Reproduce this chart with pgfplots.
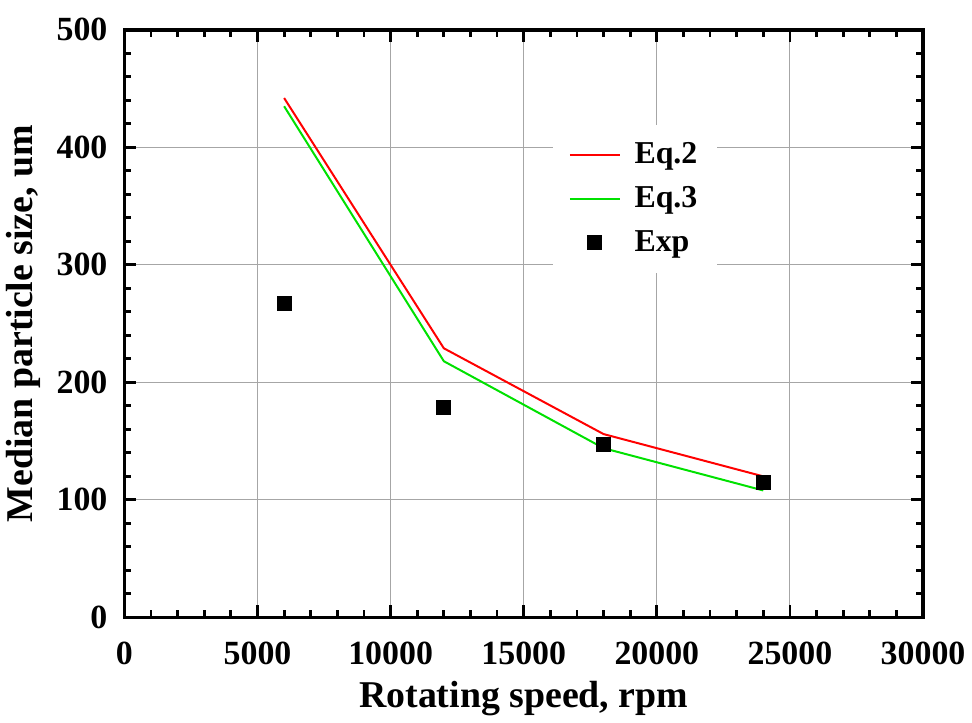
\documentclass[border=0pt]{standalone}
\usepackage{fontspec}
\setmainfont{Liberation Serif}
\usepackage{pgfplots}
\pgfplotsset{compat=1.18}

\begin{document}
\begin{tikzpicture}
\begin{axis}[
    scale only axis,
    width=401pt, height=295pt,
    xmin=0, xmax=30000, ymin=0, ymax=500,
    xtick={0,5000,...,30000}, ytick={0,100,...,500},
    minor x tick num=4, minor y tick num=4,
    tick align=inside,
    major tick length=6pt, minor tick length=3.5pt,
    every tick/.style={black, line width=1.4pt},
    axis line style={line width=1.7pt},
    grid=major,
    major grid style={gray!70, line width=0.5pt},
    scaled x ticks=false,
    /pgf/number format/assume math mode=true,
    xticklabel style={/pgf/number format/set thousands separator={}, yshift=-9pt},
    yticklabel style={xshift=-5pt},
    tick label style={font=\bfseries\fontsize{17}{17}\selectfont},
    label style={font=\bfseries\fontsize{19}{19}\selectfont},
    xlabel={Rotating speed, rpm},
    ylabel={Median particle size, um},
    xlabel style={yshift=-1pt},
    ylabel style={yshift=1pt},
    legend style={at={(0.536,0.839)}, anchor=north west, draw=none, fill=white,
        font=\bfseries\fontsize{16}{16}\selectfont, row sep=6pt, column sep=5pt,
        inner xsep=8pt, inner ysep=7pt},
    legend cell align=left,
    legend image code/.code={
        \draw[mark repeat=2, mark phase=2, #1] plot coordinates {(0pt,0pt) (12.5pt,0pt) (25pt,0pt)};
    },
]
\addplot[red, line width=1pt] coordinates {
    (6000,442) (12000,229) (18000,156) (24000,120)
};
\addlegendentry{Eq.2}
\addplot[color={rgb,255:red,0;green,225;blue,0}, line width=1pt] coordinates {
    (6000,435) (12000,218) (18000,144) (24000,108)
};
\addlegendentry{Eq.3}
\addplot[only marks, mark=square*, mark size=3.5pt, black] coordinates {
    (6000,267) (12000,179) (18000,147) (24000,115)
};
\addlegendentry{Exp}
\end{axis}
\path (current axis.north) ++(0,15pt);
\end{tikzpicture}
\end{document}
